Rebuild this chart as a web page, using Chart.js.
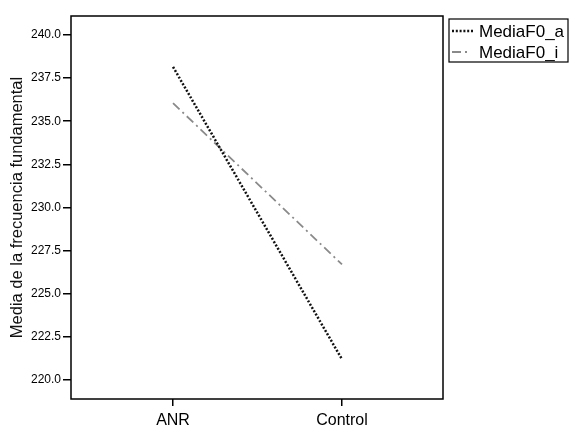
<!DOCTYPE html>
<html>
<head>
<meta charset="utf-8">
<script src="https://cdn.jsdelivr.net/npm/chart.js@4.4.1/dist/chart.umd.min.js"></script>
<style>
body{margin:0;background:#fff;}
#wrap{width:576px;height:436px;position:relative;}
</style>
</head>
<body>
<div id="wrap"><canvas id="myChart"></canvas></div>
<script>
// datos
var grupos = ['ANR', 'Control'];
var mediaF0_a = [238.15, 221.2];
var mediaF0_i = [236.05, 226.7];
var yTicks = [220.0, 222.5, 225.0, 227.5, 230.0, 232.5, 235.0, 237.5, 240.0];
var yMin = 218.9, yMax = 241.1;

var fuente = '"Liberation Sans", Arial, sans-serif';

function puntos(vals){
    return vals.map(function(v, i){ return {x: i, y: v}; });
}

// marco del grafico
var marco = {
    id: 'marco',
    afterDatasetsDraw: function(chart){
        var a = chart.chartArea, ctx = chart.ctx;
        ctx.save();
        ctx.strokeStyle = '#000';
        ctx.lineWidth = 1.5;
        ctx.strokeRect(a.left, a.top, a.right - a.left, a.bottom - a.top);
        ctx.restore();
    }
};

// leyenda con caja
var leyenda = {
    id: 'leyenda',
    afterDraw: function(chart){
        var ctx = chart.ctx;
        var x0 = 449, y0 = 19, w = 119, h = 43;
        ctx.save();
        ctx.strokeStyle = '#000';
        ctx.lineWidth = 1.2;
        ctx.strokeRect(x0, y0, w, h);
        chart.data.datasets.forEach(function(ds, i){
            var y = y0 + 12 + i * 21;
            ctx.beginPath();
            ctx.setLineDash(ds.borderDash);
            ctx.strokeStyle = ds.borderColor;
            ctx.lineWidth = ds.borderWidth;
            ctx.moveTo(x0 + 3, y);
            ctx.lineTo(x0 + (i == 0 ? 24 : 20), y);
            ctx.stroke();
            ctx.setLineDash([]);
            ctx.fillStyle = '#000';
            ctx.font = '17px ' + fuente;
            ctx.textBaseline = 'middle';
            ctx.fillText(ds.label, x0 + 30, y + 1);
        });
        ctx.restore();
    }
};

var ctx = document.getElementById('myChart').getContext('2d');
var myChart = new Chart(ctx, {
    type: 'line',
    data: {
        datasets: [{
            label: 'MediaF0_a',
            data: puntos(mediaF0_a),
            borderColor: '#111',
            borderWidth: 2.5,
            borderDash: [2, 1.8],
            pointRadius: 0,
            tension: 0,
            fill: false
        }, {
            label: 'MediaF0_i',
            data: puntos(mediaF0_i),
            borderColor: '#8a8a8a',
            borderWidth: 1.8,
            borderDash: [9, 4, 2, 4],
            pointRadius: 0,
            tension: 0,
            fill: false
        }]
    },
    options: {
        responsive: true,
        maintainAspectRatio: false,
        animation: false,
        layout: { padding: { left: 0, right: 133, top: 16, bottom: 0 } },
        plugins: { legend: { display: false }, tooltip: { enabled: false } },
        scales: {
            x: {
                type: 'linear',
                min: -0.604,
                max: 1.598,
                afterBuildTicks: function(axis){
                    axis.ticks = grupos.map(function(g, i){ return {value: i}; });
                },
                afterFit: function(axis){ axis.height = 37; },
                ticks: {
                    color: '#000',
                    padding: 5,
                    maxRotation: 0,
                    font: { family: fuente, size: 16 },
                    callback: function(v){ return grupos[v]; }
                },
                grid: { drawOnChartArea: false, drawTicks: true, tickLength: 7, color: '#000', lineWidth: 1.5 },
                border: { display: false }
            },
            y: {
                min: yMin,
                max: yMax,
                afterBuildTicks: function(axis){
                    axis.ticks = yTicks.map(function(v){ return {value: v}; });
                },
                afterFit: function(axis){ axis.width = 71; },
                ticks: {
                    color: '#000',
                    padding: 2,
                    font: { family: fuente, size: 12 },
                    callback: function(v){ return Number(v).toFixed(1); }
                },
                grid: { drawOnChartArea: false, drawTicks: true, tickLength: 8, color: '#000', lineWidth: 1.5 },
                border: { display: false },
                title: {
                    display: true,
                    text: 'Media de la frecuencia fundamental',
                    color: '#111',
                    font: { family: fuente, size: 16.5 },
                    padding: { top: 8, bottom: 0 }
                }
            }
        }
    },
    plugins: [marco, leyenda]
});
</script>
</body>
</html>
